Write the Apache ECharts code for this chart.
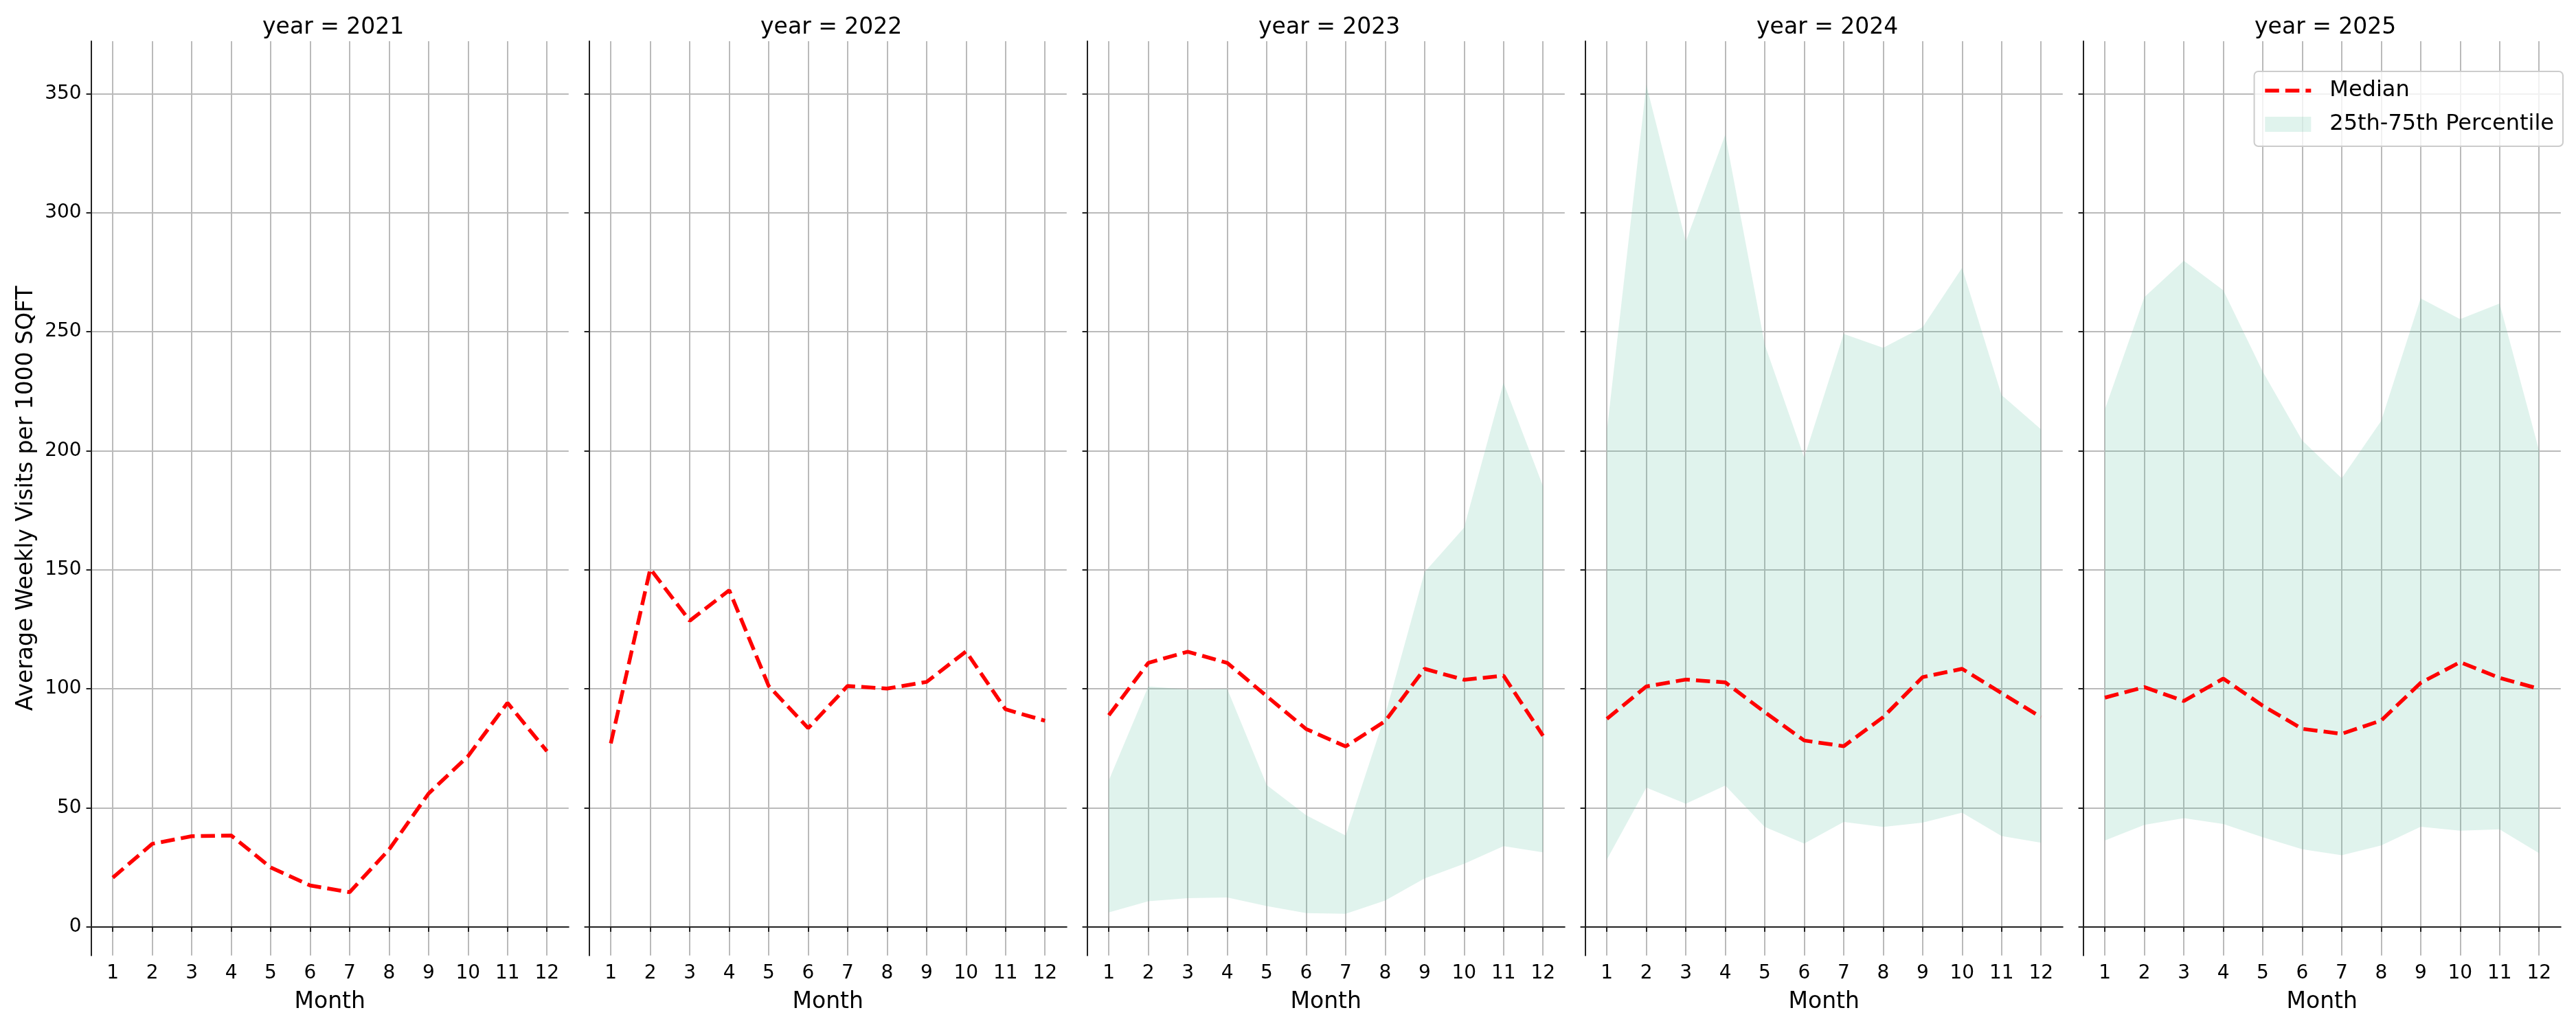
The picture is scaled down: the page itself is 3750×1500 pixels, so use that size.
<!DOCTYPE html>
<html>
<head>
<meta charset="utf-8">
<script src="https://cdn.jsdelivr.net/npm/echarts@6/dist/echarts.min.js"></script>
<style>
  html, body { margin: 0; padding: 0; background: #fff; }
  #main { width: 3750px; height: 1500px; }
</style>
</head>
<body>
<div id="main"></div>
<script>
// values
var years = ['2021', '2022', '2023', '2024', '2025'];
var months = [1, 2, 3, 4, 5, 6, 7, 8, 9, 10, 11, 12];
var yTicks = [0, 50, 100, 150, 200, 250, 300, 350];

var median2021 = [20.7, 34.9, 38.1, 38.4, 25.0, 17.4, 14.6, 32.5, 56.0, 71.7, 94.1, 73.8];
var median2022 = [77.1, 150.4, 128.6, 141.4, 101.2, 83.5, 101.2, 100.1, 102.9, 115.7, 91.4, 86.6];
var median2023 = [88.9, 110.9, 115.6, 110.9, 96.9, 83.1, 75.8, 86.4, 108.4, 103.8, 105.5, 80.3];
var median2024 = [87.4, 101.0, 103.9, 102.7, 90.2, 78.3, 75.9, 88.1, 104.9, 108.4, 98.2, 88.1];
var median2025 = [96.3, 100.7, 94.9, 104.3, 92.9, 83.2, 81.1, 86.7, 102.5, 111.2, 104.6, 100.0];

// 25th / 75th percentile (no band for 2021 and 2022)
var p25_2023 = [6.1, 10.8, 12.1, 12.4, 8.8, 5.8, 5.5, 11.1, 20.4, 26.5, 33.9, 31.3];
var p75_2023 = [61.6, 101.0, 99.7, 100.0, 59.6, 46.9, 38.4, 89.0, 149.0, 167.7, 228.5, 185.1];
var p25_2024 = [28.3, 58.5, 51.7, 59.4, 42.0, 35.0, 44.1, 42.0, 43.8, 48.0, 38.2, 35.4];
var p75_2024 = [208.3, 353.6, 287.9, 332.7, 244.6, 197.1, 249.1, 243.2, 251.9, 276.8, 223.4, 209.0];
var p25_2025 = [36.3, 42.9, 45.7, 43.2, 37.7, 32.6, 30.1, 34.2, 42.1, 40.4, 41.0, 31.0];
var p75_2025 = [217.4, 264.5, 279.8, 267.4, 233.2, 204.3, 188.4, 212.5, 264.0, 255.3, 261.8, 200.1];

var medians = [median2021, median2022, median2023, median2024, median2025];
var lows = [null, null, p25_2023, p25_2024, p25_2025];
var highs = [null, null, p75_2023, p75_2024, p75_2025];

// layout (px)
var FONT = 'DejaVu Sans';
var panelLeft = [132.6, 857.6, 1582.6, 2307.6, 3032.6];
var panelW = 695.2;
var gridTop = 60;
var gridBottom = 108.5;
var bandColor = 'rgba(102,194,165,0.2)';
var spine = { show: true, lineStyle: { color: '#222', width: 2 } };
var dash = [20.5, 9];

var myChart = echarts.init(document.getElementById('main'), null, { renderer: 'canvas' });

var grids = [], xAxes = [], yAxes = [], titles = [], series = [];

// band polygon: drawn once per panel, through the axes' own coord()
function bandRenderer(lo, hi) {
	return function (params, api) {
		if (params.dataIndex !== 0) return null;
		var pts = [];
		for (var k = 0; k < months.length; k++) pts.push(api.coord([months[k], hi[k]]));
		for (var k = months.length - 1; k >= 0; k--) pts.push(api.coord([months[k], lo[k]]));
		return { type: 'polygon', shape: { points: pts }, style: { fill: bandColor, stroke: null } };
	};
}

for (var i = 0; i < years.length; i++) {
	grids.push({ left: panelLeft[i], width: panelW, top: gridTop, bottom: gridBottom, containLabel: false });

	titles.push({
		text: 'year = ' + years[i],
		left: panelLeft[i] + panelW / 2,
		top: 19,
		textAlign: 'center',
		textStyle: { fontFamily: FONT, fontSize: 33, fontWeight: 'normal', color: '#000' }
	});

	xAxes.push({
		type: 'value', gridIndex: i, min: 0.45, max: 12.55,
		name: 'Month', nameLocation: 'middle', nameGap: 51,
		nameTextStyle: { fontFamily: FONT, fontSize: 33, color: '#000' },
		axisLine: spine,
		axisTick: { show: true, length: 7, customValues: months, lineStyle: { color: '#222', width: 2 } },
		axisLabel: { customValues: months, margin: 12, fontFamily: FONT, fontSize: 28, color: '#000' },
		splitLine: { show: true, lineStyle: { color: '#bababa', width: 2 } }
	});

	yAxes.push({
		type: 'value', gridIndex: i, min: -12, max: 372,
		name: i === 0 ? 'Average Weekly Visits per 1000 SQFT' : '',
		nameLocation: 'middle', nameGap: 78, nameRotate: 90,
		nameTextStyle: { fontFamily: FONT, fontSize: 33, color: '#000' },
		axisLine: spine,
		axisTick: { show: true, length: 7, customValues: yTicks, lineStyle: { color: '#222', width: 2 } },
		axisLabel: { show: i === 0, customValues: yTicks, margin: 14, fontFamily: FONT, fontSize: 28, color: '#000' },
		splitLine: { show: true, lineStyle: { color: '#bababa', width: 2 } }
	});

	if (lows[i]) {
		series.push({
			type: 'custom', name: '25th-75th Percentile', xAxisIndex: i, yAxisIndex: i,
			coordinateSystem: 'cartesian2d', silent: true, z: 2,
			itemStyle: { color: bandColor },
			renderItem: bandRenderer(lows[i], highs[i]),
			encode: { x: 0, y: [1, 2] },
			data: months.map(function (m, k) { return [m, lows[i][k], highs[i][k]]; })
		});
	}

	series.push({
		type: 'line', name: 'Median', xAxisIndex: i, yAxisIndex: i,
		symbol: 'none', z: 5,
		itemStyle: { color: '#ff0000' },
		lineStyle: { color: '#ff0000', width: 5.5, type: dash },
		data: months.map(function (m, k) { return [m, medians[i][k]]; })
	});
}

var option = {
	animation: false,
	backgroundColor: '#fff',
	title: titles,
	grid: grids,
	xAxis: xAxes,
	yAxis: yAxes,
	legend: {
		orient: 'vertical',
		right: 19,
		top: 104,
		padding: [12, 13, 16, 13],
		itemWidth: 67,
		itemHeight: 22,
		itemGap: 17,
		borderColor: '#cccccc',
		borderWidth: 2,
		borderRadius: 6,
		backgroundColor: 'rgba(255,255,255,0.8)',
		textStyle: { fontFamily: FONT, fontSize: 32, color: '#000', lineHeight: 32, padding: [0, 0, 0, 22] },
		data: [
			{ name: 'Median', itemStyle: { opacity: 0 }, lineStyle: { color: '#ff0000', width: 5.5, type: dash } },
			{ name: '25th-75th Percentile', icon: 'rect', itemStyle: { color: bandColor, opacity: 1 } }
		]
	},
	series: series
};

myChart.setOption(option);
</script>
</body>
</html>
